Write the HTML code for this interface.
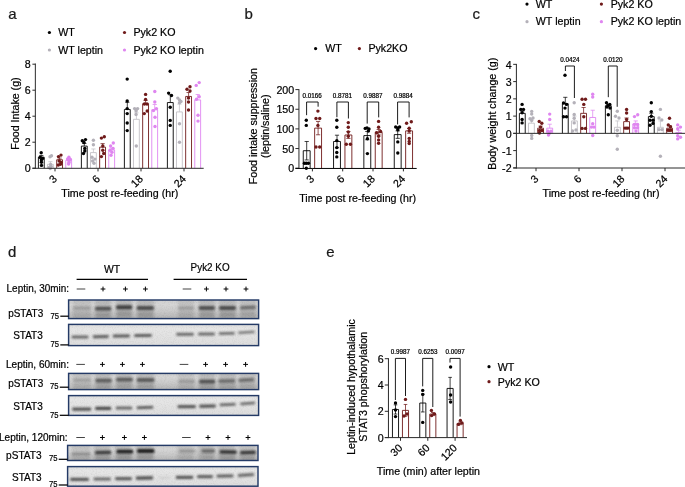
<!DOCTYPE html>
<html><head><meta charset="utf-8"><title>figure</title>
<style>html,body{margin:0;padding:0;background:#fff;overflow:hidden;}svg{display:block;font-family:"Liberation Sans",sans-serif;}</style>
</head><body>
<svg width="685" height="487" viewBox="0 0 685 487">
<rect x="0" y="0" width="685" height="487" fill="#fff"/>
<g opacity="0.999">
<text x="8.30" y="18.50" font-size="15" text-anchor="start" fill="#1a1a1a"  stroke="#1a1a1a" stroke-width="0.22">a</text>
<text x="244.40" y="18.60" font-size="15" text-anchor="start" fill="#1a1a1a"  stroke="#1a1a1a" stroke-width="0.22">b</text>
<text x="472.60" y="18.80" font-size="15" text-anchor="start" fill="#1a1a1a"  stroke="#1a1a1a" stroke-width="0.22">c</text>
<text x="8.00" y="257.00" font-size="15" text-anchor="start" fill="#1a1a1a"  stroke="#1a1a1a" stroke-width="0.22">d</text>
<text x="326.20" y="257.40" font-size="15" text-anchor="start" fill="#1a1a1a"  stroke="#1a1a1a" stroke-width="0.22">e</text>
<circle cx="49.40" cy="32.50" r="1.6" fill="#000000"/>
<text x="58.20" y="36.00" font-size="10.667" text-anchor="start" fill="#000"  stroke="#000" stroke-width="0.22">WT</text>
<circle cx="49.40" cy="50.00" r="1.6" fill="#b4b1b9"/>
<text x="58.20" y="53.60" font-size="10.667" text-anchor="start" fill="#000"  stroke="#000" stroke-width="0.22">WT leptin</text>
<circle cx="124.50" cy="32.50" r="1.6" fill="#6f1a1a"/>
<text x="133.40" y="36.00" font-size="10.667" text-anchor="start" fill="#000"  stroke="#000" stroke-width="0.22">Pyk2 KO</text>
<circle cx="124.50" cy="50.00" r="1.6" fill="#df86f0"/>
<text x="133.40" y="53.60" font-size="10.667" text-anchor="start" fill="#000"  stroke="#000" stroke-width="0.22">Pyk2 KO leptin</text>
<text transform="translate(19.20,113.50) rotate(-90)" font-size="10.667" text-anchor="middle" fill="#000" stroke="#000" stroke-width="0.22">Food Intake (g)</text>
<text x="30.60" y="172.25" font-size="10.667" text-anchor="end" fill="#000"  stroke="#000" stroke-width="0.22">0</text>
<line x1="32.40" y1="168.20" x2="35.35" y2="168.20" stroke="#2b2b2b" stroke-width="1.0" stroke-linecap="butt"/>
<text x="30.60" y="146.25" font-size="10.667" text-anchor="end" fill="#000"  stroke="#000" stroke-width="0.22">2</text>
<line x1="32.40" y1="142.20" x2="35.35" y2="142.20" stroke="#2b2b2b" stroke-width="1.0" stroke-linecap="butt"/>
<text x="30.60" y="120.25" font-size="10.667" text-anchor="end" fill="#000"  stroke="#000" stroke-width="0.22">4</text>
<line x1="32.40" y1="116.20" x2="35.35" y2="116.20" stroke="#2b2b2b" stroke-width="1.0" stroke-linecap="butt"/>
<text x="30.60" y="94.25" font-size="10.667" text-anchor="end" fill="#000"  stroke="#000" stroke-width="0.22">6</text>
<line x1="32.40" y1="90.20" x2="35.35" y2="90.20" stroke="#2b2b2b" stroke-width="1.0" stroke-linecap="butt"/>
<text x="30.60" y="68.25" font-size="10.667" text-anchor="end" fill="#000"  stroke="#000" stroke-width="0.22">8</text>
<line x1="32.40" y1="64.20" x2="35.35" y2="64.20" stroke="#2b2b2b" stroke-width="1.0" stroke-linecap="butt"/>
<line x1="41.30" y1="155.46" x2="41.30" y2="157.15" stroke="#000000" stroke-width="0.75" stroke-linecap="butt"/>
<line x1="39.20" y1="155.46" x2="43.40" y2="155.46" stroke="#000000" stroke-width="0.75" stroke-linecap="butt"/>
<path d="M38.38,168.20 V157.15 H44.23 V168.20" fill="#fff" stroke="#000000" stroke-width="0.9"/>
<line x1="50.40" y1="161.70" x2="50.40" y2="164.30" stroke="#c2c0c5" stroke-width="0.75" stroke-linecap="butt"/>
<line x1="48.30" y1="161.70" x2="52.50" y2="161.70" stroke="#c2c0c5" stroke-width="0.75" stroke-linecap="butt"/>
<path d="M47.48,168.20 V164.30 H53.33 V168.20" fill="#fff" stroke="#c2c0c5" stroke-width="0.9"/>
<line x1="59.60" y1="158.06" x2="59.60" y2="159.75" stroke="#6f1a1a" stroke-width="0.75" stroke-linecap="butt"/>
<line x1="57.50" y1="158.06" x2="61.70" y2="158.06" stroke="#6f1a1a" stroke-width="0.75" stroke-linecap="butt"/>
<path d="M56.68,168.20 V159.75 H62.53 V168.20" fill="#fff" stroke="#6f1a1a" stroke-width="0.9"/>
<line x1="68.70" y1="159.62" x2="68.70" y2="160.40" stroke="#df86f0" stroke-width="0.75" stroke-linecap="butt"/>
<line x1="66.60" y1="159.62" x2="70.80" y2="159.62" stroke="#df86f0" stroke-width="0.75" stroke-linecap="butt"/>
<path d="M65.78,168.20 V160.40 H71.62 V168.20" fill="#fff" stroke="#df86f0" stroke-width="0.9"/>
<line x1="84.30" y1="143.50" x2="84.30" y2="146.10" stroke="#000000" stroke-width="0.75" stroke-linecap="butt"/>
<line x1="82.20" y1="143.50" x2="86.40" y2="143.50" stroke="#000000" stroke-width="0.75" stroke-linecap="butt"/>
<path d="M81.38,168.20 V146.10 H87.22 V168.20" fill="#fff" stroke="#000000" stroke-width="0.9"/>
<line x1="93.40" y1="148.96" x2="93.40" y2="152.60" stroke="#c2c0c5" stroke-width="0.75" stroke-linecap="butt"/>
<line x1="91.30" y1="148.96" x2="95.50" y2="148.96" stroke="#c2c0c5" stroke-width="0.75" stroke-linecap="butt"/>
<path d="M90.48,168.20 V152.60 H96.33 V168.20" fill="#fff" stroke="#c2c0c5" stroke-width="0.9"/>
<line x1="102.60" y1="143.63" x2="102.60" y2="147.14" stroke="#6f1a1a" stroke-width="0.75" stroke-linecap="butt"/>
<line x1="100.50" y1="143.63" x2="104.70" y2="143.63" stroke="#6f1a1a" stroke-width="0.75" stroke-linecap="butt"/>
<path d="M99.67,168.20 V147.14 H105.52 V168.20" fill="#fff" stroke="#6f1a1a" stroke-width="0.9"/>
<line x1="111.70" y1="148.05" x2="111.70" y2="150.00" stroke="#df86f0" stroke-width="0.75" stroke-linecap="butt"/>
<line x1="109.60" y1="148.05" x2="113.80" y2="148.05" stroke="#df86f0" stroke-width="0.75" stroke-linecap="butt"/>
<path d="M108.78,168.20 V150.00 H114.62 V168.20" fill="#fff" stroke="#df86f0" stroke-width="0.9"/>
<line x1="127.30" y1="102.29" x2="127.30" y2="109.44" stroke="#000000" stroke-width="0.75" stroke-linecap="butt"/>
<line x1="125.20" y1="102.29" x2="129.40" y2="102.29" stroke="#000000" stroke-width="0.75" stroke-linecap="butt"/>
<path d="M124.38,168.20 V109.44 H130.22 V168.20" fill="#fff" stroke="#000000" stroke-width="0.9"/>
<line x1="136.40" y1="112.82" x2="136.40" y2="119.32" stroke="#c2c0c5" stroke-width="0.75" stroke-linecap="butt"/>
<line x1="134.30" y1="112.82" x2="138.50" y2="112.82" stroke="#c2c0c5" stroke-width="0.75" stroke-linecap="butt"/>
<path d="M133.47,168.20 V119.32 H139.32 V168.20" fill="#fff" stroke="#c2c0c5" stroke-width="0.9"/>
<line x1="145.60" y1="100.47" x2="145.60" y2="103.72" stroke="#6f1a1a" stroke-width="0.75" stroke-linecap="butt"/>
<line x1="143.50" y1="100.47" x2="147.70" y2="100.47" stroke="#6f1a1a" stroke-width="0.75" stroke-linecap="butt"/>
<path d="M142.67,168.20 V103.72 H148.52 V168.20" fill="#fff" stroke="#6f1a1a" stroke-width="0.9"/>
<line x1="154.70" y1="104.50" x2="154.70" y2="109.70" stroke="#df86f0" stroke-width="0.75" stroke-linecap="butt"/>
<line x1="152.60" y1="104.50" x2="156.80" y2="104.50" stroke="#df86f0" stroke-width="0.75" stroke-linecap="butt"/>
<path d="M151.77,168.20 V109.70 H157.62 V168.20" fill="#fff" stroke="#df86f0" stroke-width="0.9"/>
<line x1="170.30" y1="94.75" x2="170.30" y2="102.55" stroke="#000000" stroke-width="0.75" stroke-linecap="butt"/>
<line x1="168.20" y1="94.75" x2="172.40" y2="94.75" stroke="#000000" stroke-width="0.75" stroke-linecap="butt"/>
<path d="M167.38,168.20 V102.55 H173.22 V168.20" fill="#fff" stroke="#000000" stroke-width="0.9"/>
<line x1="179.40" y1="104.11" x2="179.40" y2="111.91" stroke="#c2c0c5" stroke-width="0.75" stroke-linecap="butt"/>
<line x1="177.30" y1="104.11" x2="181.50" y2="104.11" stroke="#c2c0c5" stroke-width="0.75" stroke-linecap="butt"/>
<path d="M176.47,168.20 V111.91 H182.32 V168.20" fill="#fff" stroke="#c2c0c5" stroke-width="0.9"/>
<line x1="188.60" y1="92.54" x2="188.60" y2="96.44" stroke="#6f1a1a" stroke-width="0.75" stroke-linecap="butt"/>
<line x1="186.50" y1="92.54" x2="190.70" y2="92.54" stroke="#6f1a1a" stroke-width="0.75" stroke-linecap="butt"/>
<path d="M185.67,168.20 V96.44 H191.52 V168.20" fill="#fff" stroke="#6f1a1a" stroke-width="0.9"/>
<line x1="197.70" y1="94.49" x2="197.70" y2="99.95" stroke="#df86f0" stroke-width="0.75" stroke-linecap="butt"/>
<line x1="195.60" y1="94.49" x2="199.80" y2="94.49" stroke="#df86f0" stroke-width="0.75" stroke-linecap="butt"/>
<path d="M194.77,168.20 V99.95 H200.62 V168.20" fill="#fff" stroke="#df86f0" stroke-width="0.9"/>
<circle cx="41.20" cy="152.80" r="1.7" fill="#000000"/>
<circle cx="40.10" cy="157.40" r="1.7" fill="#000000"/>
<circle cx="42.60" cy="158.40" r="1.7" fill="#000000"/>
<circle cx="41.40" cy="160.00" r="1.7" fill="#000000"/>
<circle cx="41.50" cy="165.40" r="1.7" fill="#000000"/>
<circle cx="41.40" cy="162.30" r="1.7" fill="#000000"/>
<circle cx="50.00" cy="156.80" r="1.7" fill="#b4b1b9"/>
<circle cx="51.50" cy="155.80" r="1.7" fill="#b4b1b9"/>
<circle cx="49.50" cy="167.30" r="1.7" fill="#b4b1b9"/>
<circle cx="51.20" cy="166.40" r="1.7" fill="#b4b1b9"/>
<circle cx="50.20" cy="168.60" r="1.7" fill="#b4b1b9"/>
<circle cx="50.60" cy="164.50" r="1.7" fill="#b4b1b9"/>
<circle cx="58.50" cy="156.60" r="1.7" fill="#6f1a1a"/>
<circle cx="61.00" cy="155.10" r="1.7" fill="#6f1a1a"/>
<circle cx="59.20" cy="161.00" r="1.7" fill="#6f1a1a"/>
<circle cx="61.00" cy="162.50" r="1.7" fill="#6f1a1a"/>
<circle cx="58.30" cy="165.00" r="1.7" fill="#6f1a1a"/>
<circle cx="60.50" cy="164.20" r="1.7" fill="#6f1a1a"/>
<circle cx="68.90" cy="157.20" r="1.7" fill="#df86f0"/>
<circle cx="67.60" cy="159.00" r="1.7" fill="#df86f0"/>
<circle cx="70.40" cy="159.50" r="1.7" fill="#df86f0"/>
<circle cx="69.00" cy="161.00" r="1.7" fill="#df86f0"/>
<circle cx="69.00" cy="162.60" r="1.7" fill="#df86f0"/>
<circle cx="68.60" cy="164.00" r="1.7" fill="#df86f0"/>
<circle cx="82.30" cy="140.70" r="1.7" fill="#000000"/>
<circle cx="85.50" cy="139.60" r="1.7" fill="#000000"/>
<circle cx="84.00" cy="142.50" r="1.7" fill="#000000"/>
<circle cx="84.80" cy="148.40" r="1.7" fill="#000000"/>
<circle cx="84.80" cy="151.00" r="1.7" fill="#000000"/>
<circle cx="83.50" cy="153.50" r="1.7" fill="#000000"/>
<circle cx="93.40" cy="140.30" r="1.7" fill="#b4b1b9"/>
<circle cx="93.40" cy="144.70" r="1.7" fill="#b4b1b9"/>
<circle cx="92.00" cy="157.20" r="1.7" fill="#b4b1b9"/>
<circle cx="94.90" cy="159.10" r="1.7" fill="#b4b1b9"/>
<circle cx="92.60" cy="161.00" r="1.7" fill="#b4b1b9"/>
<circle cx="94.00" cy="163.20" r="1.7" fill="#b4b1b9"/>
<circle cx="101.40" cy="138.10" r="1.7" fill="#6f1a1a"/>
<circle cx="104.30" cy="136.80" r="1.7" fill="#6f1a1a"/>
<circle cx="102.80" cy="146.00" r="1.7" fill="#6f1a1a"/>
<circle cx="102.80" cy="150.30" r="1.7" fill="#6f1a1a"/>
<circle cx="103.70" cy="153.50" r="1.7" fill="#6f1a1a"/>
<circle cx="101.40" cy="156.60" r="1.7" fill="#6f1a1a"/>
<circle cx="113.30" cy="143.00" r="1.7" fill="#df86f0"/>
<circle cx="110.60" cy="146.00" r="1.7" fill="#df86f0"/>
<circle cx="113.10" cy="148.40" r="1.7" fill="#df86f0"/>
<circle cx="110.00" cy="150.30" r="1.7" fill="#df86f0"/>
<circle cx="112.00" cy="152.20" r="1.7" fill="#df86f0"/>
<circle cx="111.00" cy="155.20" r="1.7" fill="#df86f0"/>
<circle cx="127.20" cy="79.10" r="1.7" fill="#000000"/>
<circle cx="127.20" cy="101.00" r="1.7" fill="#000000"/>
<circle cx="127.20" cy="108.60" r="1.7" fill="#000000"/>
<circle cx="127.20" cy="113.60" r="1.7" fill="#000000"/>
<circle cx="127.20" cy="123.00" r="1.7" fill="#000000"/>
<circle cx="127.20" cy="130.60" r="1.7" fill="#000000"/>
<circle cx="134.60" cy="108.60" r="1.7" fill="#b4b1b9"/>
<circle cx="137.60" cy="108.60" r="1.7" fill="#b4b1b9"/>
<circle cx="136.10" cy="111.00" r="1.7" fill="#b4b1b9"/>
<circle cx="136.10" cy="114.50" r="1.7" fill="#b4b1b9"/>
<circle cx="136.30" cy="146.00" r="1.7" fill="#b4b1b9"/>
<circle cx="136.10" cy="109.40" r="1.7" fill="#b4b1b9"/>
<circle cx="145.60" cy="94.40" r="1.7" fill="#6f1a1a"/>
<circle cx="145.60" cy="99.40" r="1.7" fill="#6f1a1a"/>
<circle cx="144.40" cy="104.00" r="1.7" fill="#6f1a1a"/>
<circle cx="147.00" cy="104.00" r="1.7" fill="#6f1a1a"/>
<circle cx="147.20" cy="111.00" r="1.7" fill="#6f1a1a"/>
<circle cx="144.30" cy="113.60" r="1.7" fill="#6f1a1a"/>
<circle cx="154.80" cy="91.50" r="1.7" fill="#df86f0"/>
<circle cx="154.80" cy="102.00" r="1.7" fill="#df86f0"/>
<circle cx="156.40" cy="108.60" r="1.7" fill="#df86f0"/>
<circle cx="153.50" cy="110.60" r="1.7" fill="#df86f0"/>
<circle cx="155.00" cy="117.20" r="1.7" fill="#df86f0"/>
<circle cx="155.00" cy="126.50" r="1.7" fill="#df86f0"/>
<circle cx="170.20" cy="71.20" r="1.7" fill="#000000"/>
<circle cx="168.60" cy="93.10" r="1.7" fill="#000000"/>
<circle cx="171.50" cy="95.50" r="1.7" fill="#000000"/>
<circle cx="170.20" cy="107.30" r="1.7" fill="#000000"/>
<circle cx="170.20" cy="120.40" r="1.7" fill="#000000"/>
<circle cx="170.20" cy="125.40" r="1.7" fill="#000000"/>
<circle cx="177.80" cy="98.10" r="1.7" fill="#b4b1b9"/>
<circle cx="179.50" cy="100.00" r="1.7" fill="#b4b1b9"/>
<circle cx="181.00" cy="101.50" r="1.7" fill="#b4b1b9"/>
<circle cx="179.50" cy="102.70" r="1.7" fill="#b4b1b9"/>
<circle cx="179.50" cy="123.70" r="1.7" fill="#b4b1b9"/>
<circle cx="179.50" cy="142.20" r="1.7" fill="#b4b1b9"/>
<circle cx="190.00" cy="86.70" r="1.7" fill="#6f1a1a"/>
<circle cx="187.00" cy="89.20" r="1.7" fill="#6f1a1a"/>
<circle cx="190.00" cy="90.90" r="1.7" fill="#6f1a1a"/>
<circle cx="188.50" cy="98.10" r="1.7" fill="#6f1a1a"/>
<circle cx="188.50" cy="102.00" r="1.7" fill="#6f1a1a"/>
<circle cx="188.50" cy="110.00" r="1.7" fill="#6f1a1a"/>
<circle cx="199.20" cy="82.60" r="1.7" fill="#df86f0"/>
<circle cx="196.20" cy="85.40" r="1.7" fill="#df86f0"/>
<circle cx="199.20" cy="96.80" r="1.7" fill="#df86f0"/>
<circle cx="196.50" cy="99.20" r="1.7" fill="#df86f0"/>
<circle cx="198.00" cy="115.20" r="1.7" fill="#df86f0"/>
<circle cx="198.00" cy="121.10" r="1.7" fill="#df86f0"/>
<line x1="35.35" y1="63.50" x2="35.35" y2="168.70" stroke="#2b2b2b" stroke-width="1.0" stroke-linecap="butt"/>
<line x1="32.40" y1="168.30" x2="203.70" y2="168.30" stroke="#2b2b2b" stroke-width="1.0" stroke-linecap="butt"/>
<line x1="55.00" y1="168.20" x2="55.00" y2="171.40" stroke="#2b2b2b" stroke-width="1.0" stroke-linecap="butt"/>
<line x1="98.00" y1="168.20" x2="98.00" y2="171.40" stroke="#2b2b2b" stroke-width="1.0" stroke-linecap="butt"/>
<line x1="141.00" y1="168.20" x2="141.00" y2="171.40" stroke="#2b2b2b" stroke-width="1.0" stroke-linecap="butt"/>
<line x1="184.00" y1="168.20" x2="184.00" y2="171.40" stroke="#2b2b2b" stroke-width="1.0" stroke-linecap="butt"/>
<text transform="translate(57.70,179.50) rotate(-45)" font-size="10.667" text-anchor="end" fill="#000" stroke="#000" stroke-width="0.22">3</text>
<text transform="translate(100.70,179.50) rotate(-45)" font-size="10.667" text-anchor="end" fill="#000" stroke="#000" stroke-width="0.22">6</text>
<text transform="translate(143.70,179.50) rotate(-45)" font-size="10.667" text-anchor="end" fill="#000" stroke="#000" stroke-width="0.22">18</text>
<text transform="translate(186.70,179.50) rotate(-45)" font-size="10.667" text-anchor="end" fill="#000" stroke="#000" stroke-width="0.22">24</text>
<text x="119.80" y="197.00" font-size="10.667" text-anchor="middle" fill="#000"  stroke="#000" stroke-width="0.22">Time post re-feeding (hr)</text>
<circle cx="315.60" cy="48.60" r="1.6" fill="#000000"/>
<text x="325.20" y="52.20" font-size="10.667" text-anchor="start" fill="#000"  stroke="#000" stroke-width="0.22">WT</text>
<circle cx="359.40" cy="48.60" r="1.6" fill="#6f1a1a"/>
<text x="368.40" y="52.20" font-size="10.667" text-anchor="start" fill="#000"  stroke="#000" stroke-width="0.22">Pyk2KO</text>
<text transform="translate(256.80,126.20) rotate(-90)" font-size="10.667" text-anchor="middle" fill="#000" stroke="#000" stroke-width="0.22">Food intake suppression</text>
<text transform="translate(269.30,126.20) rotate(-90)" font-size="10.667" text-anchor="middle" fill="#000" stroke="#000" stroke-width="0.22">(leptin/saline)</text>
<text x="294.20" y="172.25" font-size="10.667" text-anchor="end" fill="#000"  stroke="#000" stroke-width="0.22">0</text>
<line x1="295.40" y1="168.20" x2="298.95" y2="168.20" stroke="#2b2b2b" stroke-width="1.0" stroke-linecap="butt"/>
<text x="294.20" y="152.60" font-size="10.667" text-anchor="end" fill="#000"  stroke="#000" stroke-width="0.22">50</text>
<line x1="295.40" y1="148.55" x2="298.95" y2="148.55" stroke="#2b2b2b" stroke-width="1.0" stroke-linecap="butt"/>
<text x="294.20" y="132.95" font-size="10.667" text-anchor="end" fill="#000"  stroke="#000" stroke-width="0.22">100</text>
<line x1="295.40" y1="128.90" x2="298.95" y2="128.90" stroke="#2b2b2b" stroke-width="1.0" stroke-linecap="butt"/>
<text x="294.20" y="113.30" font-size="10.667" text-anchor="end" fill="#000"  stroke="#000" stroke-width="0.22">150</text>
<line x1="295.40" y1="109.25" x2="298.95" y2="109.25" stroke="#2b2b2b" stroke-width="1.0" stroke-linecap="butt"/>
<text x="294.20" y="93.65" font-size="10.667" text-anchor="end" fill="#000"  stroke="#000" stroke-width="0.22">200</text>
<line x1="295.40" y1="89.60" x2="298.95" y2="89.60" stroke="#2b2b2b" stroke-width="1.0" stroke-linecap="butt"/>
<path d="M303.25,168.20 V150.71 H310.15 V168.20" fill="#fff" stroke="#000000" stroke-width="0.9"/>
<line x1="306.70" y1="141.48" x2="306.70" y2="159.95" stroke="#000000" stroke-width="0.75" stroke-linecap="butt"/>
<line x1="304.60" y1="141.48" x2="308.80" y2="141.48" stroke="#000000" stroke-width="0.75" stroke-linecap="butt"/>
<line x1="304.60" y1="159.95" x2="308.80" y2="159.95" stroke="#000000" stroke-width="0.75" stroke-linecap="butt"/>
<path d="M314.65,168.20 V128.11 H321.55 V168.20" fill="#fff" stroke="#6f1a1a" stroke-width="0.9"/>
<line x1="318.10" y1="121.43" x2="318.10" y2="134.79" stroke="#6f1a1a" stroke-width="0.75" stroke-linecap="butt"/>
<line x1="316.00" y1="121.43" x2="320.20" y2="121.43" stroke="#6f1a1a" stroke-width="0.75" stroke-linecap="butt"/>
<line x1="316.00" y1="134.79" x2="320.20" y2="134.79" stroke="#6f1a1a" stroke-width="0.75" stroke-linecap="butt"/>
<path d="M333.55,168.20 V141.48 H340.45 V168.20" fill="#fff" stroke="#000000" stroke-width="0.9"/>
<line x1="337.00" y1="135.19" x2="337.00" y2="147.76" stroke="#000000" stroke-width="0.75" stroke-linecap="butt"/>
<line x1="334.90" y1="135.19" x2="339.10" y2="135.19" stroke="#000000" stroke-width="0.75" stroke-linecap="butt"/>
<line x1="334.90" y1="147.76" x2="339.10" y2="147.76" stroke="#000000" stroke-width="0.75" stroke-linecap="butt"/>
<path d="M344.95,168.20 V134.99 H351.85 V168.20" fill="#fff" stroke="#6f1a1a" stroke-width="0.9"/>
<line x1="348.40" y1="131.53" x2="348.40" y2="138.45" stroke="#6f1a1a" stroke-width="0.75" stroke-linecap="butt"/>
<line x1="346.30" y1="131.53" x2="350.50" y2="131.53" stroke="#6f1a1a" stroke-width="0.75" stroke-linecap="butt"/>
<line x1="346.30" y1="138.45" x2="350.50" y2="138.45" stroke="#6f1a1a" stroke-width="0.75" stroke-linecap="butt"/>
<path d="M363.85,168.20 V135.58 H370.75 V168.20" fill="#fff" stroke="#000000" stroke-width="0.9"/>
<line x1="367.30" y1="131.45" x2="367.30" y2="139.71" stroke="#000000" stroke-width="0.75" stroke-linecap="butt"/>
<line x1="365.20" y1="131.45" x2="369.40" y2="131.45" stroke="#000000" stroke-width="0.75" stroke-linecap="butt"/>
<line x1="365.20" y1="139.71" x2="369.40" y2="139.71" stroke="#000000" stroke-width="0.75" stroke-linecap="butt"/>
<path d="M375.25,168.20 V132.24 H382.15 V168.20" fill="#fff" stroke="#6f1a1a" stroke-width="0.9"/>
<line x1="378.70" y1="129.49" x2="378.70" y2="134.99" stroke="#6f1a1a" stroke-width="0.75" stroke-linecap="butt"/>
<line x1="376.60" y1="129.49" x2="380.80" y2="129.49" stroke="#6f1a1a" stroke-width="0.75" stroke-linecap="butt"/>
<line x1="376.60" y1="134.99" x2="380.80" y2="134.99" stroke="#6f1a1a" stroke-width="0.75" stroke-linecap="butt"/>
<path d="M394.25,168.20 V134.60 H401.15 V168.20" fill="#fff" stroke="#000000" stroke-width="0.9"/>
<line x1="397.70" y1="130.86" x2="397.70" y2="138.33" stroke="#000000" stroke-width="0.75" stroke-linecap="butt"/>
<line x1="395.60" y1="130.86" x2="399.80" y2="130.86" stroke="#000000" stroke-width="0.75" stroke-linecap="butt"/>
<line x1="395.60" y1="138.33" x2="399.80" y2="138.33" stroke="#000000" stroke-width="0.75" stroke-linecap="butt"/>
<path d="M405.65,168.20 V130.86 H412.55 V168.20" fill="#fff" stroke="#6f1a1a" stroke-width="0.9"/>
<line x1="409.10" y1="128.51" x2="409.10" y2="133.22" stroke="#6f1a1a" stroke-width="0.75" stroke-linecap="butt"/>
<line x1="407.00" y1="128.51" x2="411.20" y2="128.51" stroke="#6f1a1a" stroke-width="0.75" stroke-linecap="butt"/>
<line x1="407.00" y1="133.22" x2="411.20" y2="133.22" stroke="#6f1a1a" stroke-width="0.75" stroke-linecap="butt"/>
<circle cx="306.30" cy="120.20" r="1.7" fill="#000000"/>
<circle cx="306.30" cy="125.40" r="1.7" fill="#000000"/>
<circle cx="304.40" cy="163.20" r="1.7" fill="#000000"/>
<circle cx="306.30" cy="163.20" r="1.7" fill="#000000"/>
<circle cx="308.40" cy="163.20" r="1.7" fill="#000000"/>
<circle cx="306.30" cy="168.30" r="1.7" fill="#000000"/>
<circle cx="317.90" cy="111.10" r="1.7" fill="#6f1a1a"/>
<circle cx="316.00" cy="118.50" r="1.7" fill="#6f1a1a"/>
<circle cx="319.70" cy="118.50" r="1.7" fill="#6f1a1a"/>
<circle cx="317.90" cy="125.40" r="1.7" fill="#6f1a1a"/>
<circle cx="316.00" cy="147.00" r="1.7" fill="#6f1a1a"/>
<circle cx="319.70" cy="147.00" r="1.7" fill="#6f1a1a"/>
<circle cx="336.80" cy="120.20" r="1.7" fill="#000000"/>
<circle cx="336.80" cy="127.30" r="1.7" fill="#000000"/>
<circle cx="336.80" cy="140.60" r="1.7" fill="#000000"/>
<circle cx="336.80" cy="147.60" r="1.7" fill="#000000"/>
<circle cx="336.80" cy="152.50" r="1.7" fill="#000000"/>
<circle cx="336.80" cy="156.90" r="1.7" fill="#000000"/>
<circle cx="348.30" cy="122.60" r="1.7" fill="#6f1a1a"/>
<circle cx="348.30" cy="127.30" r="1.7" fill="#6f1a1a"/>
<circle cx="348.30" cy="132.00" r="1.7" fill="#6f1a1a"/>
<circle cx="348.30" cy="136.20" r="1.7" fill="#6f1a1a"/>
<circle cx="346.30" cy="144.30" r="1.7" fill="#6f1a1a"/>
<circle cx="350.40" cy="144.30" r="1.7" fill="#6f1a1a"/>
<circle cx="365.20" cy="128.40" r="1.7" fill="#000000"/>
<circle cx="367.00" cy="127.90" r="1.7" fill="#000000"/>
<circle cx="369.00" cy="129.00" r="1.7" fill="#000000"/>
<circle cx="368.40" cy="131.00" r="1.7" fill="#000000"/>
<circle cx="367.40" cy="138.70" r="1.7" fill="#000000"/>
<circle cx="367.40" cy="153.60" r="1.7" fill="#000000"/>
<circle cx="378.60" cy="121.40" r="1.7" fill="#6f1a1a"/>
<circle cx="378.60" cy="127.30" r="1.7" fill="#6f1a1a"/>
<circle cx="376.60" cy="132.80" r="1.7" fill="#6f1a1a"/>
<circle cx="380.60" cy="131.50" r="1.7" fill="#6f1a1a"/>
<circle cx="378.60" cy="136.20" r="1.7" fill="#6f1a1a"/>
<circle cx="378.60" cy="139.90" r="1.7" fill="#6f1a1a"/>
<circle cx="378.60" cy="143.20" r="1.7" fill="#6f1a1a"/>
<circle cx="395.70" cy="127.00" r="1.7" fill="#000000"/>
<circle cx="399.60" cy="127.00" r="1.7" fill="#000000"/>
<circle cx="397.80" cy="129.70" r="1.7" fill="#000000"/>
<circle cx="397.80" cy="128.00" r="1.7" fill="#000000"/>
<circle cx="397.80" cy="141.90" r="1.7" fill="#000000"/>
<circle cx="397.80" cy="153.00" r="1.7" fill="#000000"/>
<circle cx="406.60" cy="123.20" r="1.7" fill="#6f1a1a"/>
<circle cx="411.30" cy="121.80" r="1.7" fill="#6f1a1a"/>
<circle cx="409.20" cy="128.30" r="1.7" fill="#6f1a1a"/>
<circle cx="409.20" cy="130.90" r="1.7" fill="#6f1a1a"/>
<circle cx="409.20" cy="138.40" r="1.7" fill="#6f1a1a"/>
<circle cx="409.20" cy="141.40" r="1.7" fill="#6f1a1a"/>
<circle cx="409.20" cy="143.60" r="1.7" fill="#6f1a1a"/>
<line x1="298.95" y1="89.10" x2="298.95" y2="168.70" stroke="#2b2b2b" stroke-width="1.0" stroke-linecap="butt"/>
<line x1="295.40" y1="168.45" x2="416.70" y2="168.45" stroke="#000" stroke-width="1.0" stroke-linecap="butt"/>
<line x1="312.40" y1="168.20" x2="312.40" y2="171.40" stroke="#2b2b2b" stroke-width="1.0" stroke-linecap="butt"/>
<line x1="342.70" y1="168.20" x2="342.70" y2="171.40" stroke="#2b2b2b" stroke-width="1.0" stroke-linecap="butt"/>
<line x1="373.00" y1="168.20" x2="373.00" y2="171.40" stroke="#2b2b2b" stroke-width="1.0" stroke-linecap="butt"/>
<line x1="403.40" y1="168.20" x2="403.40" y2="171.40" stroke="#2b2b2b" stroke-width="1.0" stroke-linecap="butt"/>
<text transform="translate(315.00,179.60) rotate(-45)" font-size="10.667" text-anchor="end" fill="#000" stroke="#000" stroke-width="0.22">3</text>
<text transform="translate(345.30,179.60) rotate(-45)" font-size="10.667" text-anchor="end" fill="#000" stroke="#000" stroke-width="0.22">6</text>
<text transform="translate(375.60,179.60) rotate(-45)" font-size="10.667" text-anchor="end" fill="#000" stroke="#000" stroke-width="0.22">18</text>
<text transform="translate(406.00,179.60) rotate(-45)" font-size="10.667" text-anchor="end" fill="#000" stroke="#000" stroke-width="0.22">24</text>
<text x="357.60" y="201.60" font-size="10.667" text-anchor="middle" fill="#000"  stroke="#000" stroke-width="0.22">Time post re-feeding (hr)</text>
<path d="M306.60,115.20 V102.00 H318.10 V106.70" fill="none" stroke="#000" stroke-width="0.9"/>
<text x="312.20" y="97.70" font-size="6.3" text-anchor="middle" fill="#000"  stroke="#000" stroke-width="0.22">0.0166</text>
<path d="M336.90,117.20 V102.00 H348.40 V118.50" fill="none" stroke="#000" stroke-width="0.9"/>
<text x="342.50" y="97.70" font-size="6.3" text-anchor="middle" fill="#000"  stroke="#000" stroke-width="0.22">0.8781</text>
<path d="M367.20,123.60 V102.00 H378.70 V117.40" fill="none" stroke="#000" stroke-width="0.9"/>
<text x="372.80" y="97.70" font-size="6.3" text-anchor="middle" fill="#000"  stroke="#000" stroke-width="0.22">0.9887</text>
<path d="M397.60,124.40 V102.00 H409.10 V117.40" fill="none" stroke="#000" stroke-width="0.9"/>
<text x="403.20" y="97.70" font-size="6.3" text-anchor="middle" fill="#000"  stroke="#000" stroke-width="0.22">0.9884</text>
<circle cx="527.00" cy="4.10" r="1.6" fill="#000000"/>
<text x="535.80" y="7.70" font-size="10.667" text-anchor="start" fill="#000"  stroke="#000" stroke-width="0.22">WT</text>
<circle cx="527.00" cy="21.70" r="1.6" fill="#b4b1b9"/>
<text x="535.80" y="25.30" font-size="10.667" text-anchor="start" fill="#000"  stroke="#000" stroke-width="0.22">WT leptin</text>
<circle cx="601.40" cy="4.10" r="1.6" fill="#6f1a1a"/>
<text x="610.70" y="7.70" font-size="10.667" text-anchor="start" fill="#000"  stroke="#000" stroke-width="0.22">Pyk2 KO</text>
<circle cx="601.40" cy="21.70" r="1.6" fill="#df86f0"/>
<text x="610.70" y="25.30" font-size="10.667" text-anchor="start" fill="#000"  stroke="#000" stroke-width="0.22">Pyk2 KO leptin</text>
<text transform="translate(496.30,113.70) rotate(-90)" font-size="10.667" text-anchor="middle" fill="#000" stroke="#000" stroke-width="0.22">Body weight change (g)</text>
<text x="511.60" y="172.15" font-size="10.667" text-anchor="end" fill="#000"  stroke="#000" stroke-width="0.22">-2</text>
<line x1="513.20" y1="167.85" x2="516.40" y2="167.85" stroke="#2b2b2b" stroke-width="1.0" stroke-linecap="butt"/>
<text x="511.60" y="154.90" font-size="10.667" text-anchor="end" fill="#000"  stroke="#000" stroke-width="0.22">-1</text>
<line x1="513.20" y1="150.60" x2="516.40" y2="150.60" stroke="#2b2b2b" stroke-width="1.0" stroke-linecap="butt"/>
<text x="511.60" y="137.65" font-size="10.667" text-anchor="end" fill="#000"  stroke="#000" stroke-width="0.22">0</text>
<line x1="513.20" y1="133.35" x2="516.40" y2="133.35" stroke="#2b2b2b" stroke-width="1.0" stroke-linecap="butt"/>
<text x="511.60" y="120.40" font-size="10.667" text-anchor="end" fill="#000"  stroke="#000" stroke-width="0.22">1</text>
<line x1="513.20" y1="116.10" x2="516.40" y2="116.10" stroke="#2b2b2b" stroke-width="1.0" stroke-linecap="butt"/>
<text x="511.60" y="103.15" font-size="10.667" text-anchor="end" fill="#000"  stroke="#000" stroke-width="0.22">2</text>
<line x1="513.20" y1="98.85" x2="516.40" y2="98.85" stroke="#2b2b2b" stroke-width="1.0" stroke-linecap="butt"/>
<text x="511.60" y="85.90" font-size="10.667" text-anchor="end" fill="#000"  stroke="#000" stroke-width="0.22">3</text>
<line x1="513.20" y1="81.60" x2="516.40" y2="81.60" stroke="#2b2b2b" stroke-width="1.0" stroke-linecap="butt"/>
<text x="511.60" y="68.65" font-size="10.667" text-anchor="end" fill="#000"  stroke="#000" stroke-width="0.22">4</text>
<line x1="513.20" y1="64.35" x2="516.40" y2="64.35" stroke="#2b2b2b" stroke-width="1.0" stroke-linecap="butt"/>
<line x1="522.30" y1="111.10" x2="522.30" y2="113.34" stroke="#000000" stroke-width="0.75" stroke-linecap="butt"/>
<line x1="520.20" y1="111.10" x2="524.40" y2="111.10" stroke="#000000" stroke-width="0.75" stroke-linecap="butt"/>
<path d="M519.38,133.35 V113.34 H525.23 V133.35" fill="#fff" stroke="#000000" stroke-width="0.9"/>
<line x1="531.40" y1="118.52" x2="531.40" y2="123.17" stroke="#c2c0c5" stroke-width="0.75" stroke-linecap="butt"/>
<line x1="529.30" y1="118.52" x2="533.50" y2="118.52" stroke="#c2c0c5" stroke-width="0.75" stroke-linecap="butt"/>
<path d="M528.48,133.35 V123.17 H534.33 V133.35" fill="#fff" stroke="#c2c0c5" stroke-width="0.9"/>
<line x1="540.60" y1="126.10" x2="540.60" y2="128.17" stroke="#6f1a1a" stroke-width="0.75" stroke-linecap="butt"/>
<line x1="538.50" y1="126.10" x2="542.70" y2="126.10" stroke="#6f1a1a" stroke-width="0.75" stroke-linecap="butt"/>
<path d="M537.68,133.35 V128.17 H543.53 V133.35" fill="#fff" stroke="#6f1a1a" stroke-width="0.9"/>
<line x1="549.70" y1="124.21" x2="549.70" y2="128.17" stroke="#df86f0" stroke-width="0.75" stroke-linecap="butt"/>
<line x1="547.60" y1="124.21" x2="551.80" y2="124.21" stroke="#df86f0" stroke-width="0.75" stroke-linecap="butt"/>
<path d="M546.78,133.35 V128.17 H552.63 V133.35" fill="#fff" stroke="#df86f0" stroke-width="0.9"/>
<line x1="565.30" y1="97.30" x2="565.30" y2="103.68" stroke="#000000" stroke-width="0.75" stroke-linecap="butt"/>
<line x1="563.20" y1="97.30" x2="567.40" y2="97.30" stroke="#000000" stroke-width="0.75" stroke-linecap="butt"/>
<path d="M562.38,133.35 V103.68 H568.23 V133.35" fill="#fff" stroke="#000000" stroke-width="0.9"/>
<line x1="574.40" y1="116.10" x2="574.40" y2="120.93" stroke="#c2c0c5" stroke-width="0.75" stroke-linecap="butt"/>
<line x1="572.30" y1="116.10" x2="576.50" y2="116.10" stroke="#c2c0c5" stroke-width="0.75" stroke-linecap="butt"/>
<path d="M571.48,133.35 V120.93 H577.33 V133.35" fill="#fff" stroke="#c2c0c5" stroke-width="0.9"/>
<line x1="583.60" y1="107.47" x2="583.60" y2="113.34" stroke="#6f1a1a" stroke-width="0.75" stroke-linecap="butt"/>
<line x1="581.50" y1="107.47" x2="585.70" y2="107.47" stroke="#6f1a1a" stroke-width="0.75" stroke-linecap="butt"/>
<path d="M580.68,133.35 V113.34 H586.53 V133.35" fill="#fff" stroke="#6f1a1a" stroke-width="0.9"/>
<line x1="592.70" y1="110.23" x2="592.70" y2="117.48" stroke="#df86f0" stroke-width="0.75" stroke-linecap="butt"/>
<line x1="590.60" y1="110.23" x2="594.80" y2="110.23" stroke="#df86f0" stroke-width="0.75" stroke-linecap="butt"/>
<path d="M589.78,133.35 V117.48 H595.63 V133.35" fill="#fff" stroke="#df86f0" stroke-width="0.9"/>
<line x1="608.30" y1="104.37" x2="608.30" y2="105.75" stroke="#000000" stroke-width="0.75" stroke-linecap="butt"/>
<line x1="606.20" y1="104.37" x2="610.40" y2="104.37" stroke="#000000" stroke-width="0.75" stroke-linecap="butt"/>
<path d="M605.38,133.35 V105.75 H611.23 V133.35" fill="#fff" stroke="#000000" stroke-width="0.9"/>
<line x1="617.40" y1="120.93" x2="617.40" y2="127.31" stroke="#c2c0c5" stroke-width="0.75" stroke-linecap="butt"/>
<line x1="615.30" y1="120.93" x2="619.50" y2="120.93" stroke="#c2c0c5" stroke-width="0.75" stroke-linecap="butt"/>
<path d="M614.48,133.35 V127.31 H620.33 V133.35" fill="#fff" stroke="#c2c0c5" stroke-width="0.9"/>
<line x1="626.60" y1="118.00" x2="626.60" y2="121.62" stroke="#6f1a1a" stroke-width="0.75" stroke-linecap="butt"/>
<line x1="624.50" y1="118.00" x2="628.70" y2="118.00" stroke="#6f1a1a" stroke-width="0.75" stroke-linecap="butt"/>
<path d="M623.68,133.35 V121.62 H629.53 V133.35" fill="#fff" stroke="#6f1a1a" stroke-width="0.9"/>
<line x1="635.70" y1="120.93" x2="635.70" y2="123.86" stroke="#df86f0" stroke-width="0.75" stroke-linecap="butt"/>
<line x1="633.60" y1="120.93" x2="637.80" y2="120.93" stroke="#df86f0" stroke-width="0.75" stroke-linecap="butt"/>
<path d="M632.78,133.35 V123.86 H638.63 V133.35" fill="#fff" stroke="#df86f0" stroke-width="0.9"/>
<line x1="651.30" y1="113.17" x2="651.30" y2="116.62" stroke="#000000" stroke-width="0.75" stroke-linecap="butt"/>
<line x1="649.20" y1="113.17" x2="653.40" y2="113.17" stroke="#000000" stroke-width="0.75" stroke-linecap="butt"/>
<path d="M648.38,133.35 V116.62 H654.23 V133.35" fill="#fff" stroke="#000000" stroke-width="0.9"/>
<line x1="660.40" y1="120.93" x2="660.40" y2="127.31" stroke="#c2c0c5" stroke-width="0.75" stroke-linecap="butt"/>
<line x1="658.30" y1="120.93" x2="662.50" y2="120.93" stroke="#c2c0c5" stroke-width="0.75" stroke-linecap="butt"/>
<path d="M657.48,133.35 V127.31 H663.33 V133.35" fill="#fff" stroke="#c2c0c5" stroke-width="0.9"/>
<line x1="669.60" y1="125.93" x2="669.60" y2="128.17" stroke="#6f1a1a" stroke-width="0.75" stroke-linecap="butt"/>
<line x1="667.50" y1="125.93" x2="671.70" y2="125.93" stroke="#6f1a1a" stroke-width="0.75" stroke-linecap="butt"/>
<path d="M666.68,133.35 V128.17 H672.53 V133.35" fill="#fff" stroke="#6f1a1a" stroke-width="0.9"/>
<line x1="678.70" y1="130.25" x2="678.70" y2="132.49" stroke="#df86f0" stroke-width="0.75" stroke-linecap="butt"/>
<line x1="676.60" y1="130.25" x2="680.80" y2="130.25" stroke="#df86f0" stroke-width="0.75" stroke-linecap="butt"/>
<path d="M675.78,133.35 V132.49 H681.63 V133.35" fill="#fff" stroke="#df86f0" stroke-width="0.9"/>
<circle cx="522.10" cy="104.40" r="1.7" fill="#000000"/>
<circle cx="520.80" cy="109.40" r="1.7" fill="#000000"/>
<circle cx="523.50" cy="109.40" r="1.7" fill="#000000"/>
<circle cx="522.10" cy="112.80" r="1.7" fill="#000000"/>
<circle cx="522.10" cy="119.50" r="1.7" fill="#000000"/>
<circle cx="522.10" cy="122.90" r="1.7" fill="#000000"/>
<circle cx="531.70" cy="111.40" r="1.7" fill="#b4b1b9"/>
<circle cx="531.70" cy="114.10" r="1.7" fill="#b4b1b9"/>
<circle cx="530.00" cy="118.70" r="1.7" fill="#b4b1b9"/>
<circle cx="533.00" cy="118.00" r="1.7" fill="#b4b1b9"/>
<circle cx="531.70" cy="120.40" r="1.7" fill="#b4b1b9"/>
<circle cx="531.70" cy="135.50" r="1.7" fill="#b4b1b9"/>
<circle cx="531.70" cy="138.40" r="1.7" fill="#b4b1b9"/>
<circle cx="539.20" cy="121.50" r="1.7" fill="#6f1a1a"/>
<circle cx="541.80" cy="123.20" r="1.7" fill="#6f1a1a"/>
<circle cx="540.50" cy="127.10" r="1.7" fill="#6f1a1a"/>
<circle cx="539.50" cy="130.50" r="1.7" fill="#6f1a1a"/>
<circle cx="542.00" cy="130.50" r="1.7" fill="#6f1a1a"/>
<circle cx="539.50" cy="133.00" r="1.7" fill="#6f1a1a"/>
<circle cx="549.70" cy="114.10" r="1.7" fill="#df86f0"/>
<circle cx="549.70" cy="119.50" r="1.7" fill="#df86f0"/>
<circle cx="548.00" cy="131.30" r="1.7" fill="#df86f0"/>
<circle cx="551.00" cy="131.30" r="1.7" fill="#df86f0"/>
<circle cx="549.70" cy="133.00" r="1.7" fill="#df86f0"/>
<circle cx="548.50" cy="135.00" r="1.7" fill="#df86f0"/>
<circle cx="565.00" cy="75.30" r="1.7" fill="#000000"/>
<circle cx="563.50" cy="103.00" r="1.7" fill="#000000"/>
<circle cx="566.50" cy="104.40" r="1.7" fill="#000000"/>
<circle cx="565.00" cy="108.10" r="1.7" fill="#000000"/>
<circle cx="563.50" cy="116.70" r="1.7" fill="#000000"/>
<circle cx="566.50" cy="116.70" r="1.7" fill="#000000"/>
<circle cx="574.20" cy="102.70" r="1.7" fill="#b4b1b9"/>
<circle cx="574.20" cy="114.50" r="1.7" fill="#b4b1b9"/>
<circle cx="574.20" cy="118.20" r="1.7" fill="#b4b1b9"/>
<circle cx="574.20" cy="122.90" r="1.7" fill="#b4b1b9"/>
<circle cx="572.50" cy="131.00" r="1.7" fill="#b4b1b9"/>
<circle cx="576.00" cy="130.00" r="1.7" fill="#b4b1b9"/>
<circle cx="582.10" cy="99.30" r="1.7" fill="#6f1a1a"/>
<circle cx="585.50" cy="99.30" r="1.7" fill="#6f1a1a"/>
<circle cx="583.80" cy="104.40" r="1.7" fill="#6f1a1a"/>
<circle cx="583.80" cy="116.70" r="1.7" fill="#6f1a1a"/>
<circle cx="582.10" cy="128.40" r="1.7" fill="#6f1a1a"/>
<circle cx="585.50" cy="128.40" r="1.7" fill="#6f1a1a"/>
<circle cx="592.70" cy="94.30" r="1.7" fill="#df86f0"/>
<circle cx="592.70" cy="97.10" r="1.7" fill="#df86f0"/>
<circle cx="592.70" cy="123.70" r="1.7" fill="#df86f0"/>
<circle cx="591.50" cy="127.10" r="1.7" fill="#df86f0"/>
<circle cx="594.00" cy="127.10" r="1.7" fill="#df86f0"/>
<circle cx="592.70" cy="135.50" r="1.7" fill="#df86f0"/>
<circle cx="606.50" cy="102.70" r="1.7" fill="#000000"/>
<circle cx="609.80" cy="104.40" r="1.7" fill="#000000"/>
<circle cx="607.00" cy="107.00" r="1.7" fill="#000000"/>
<circle cx="610.00" cy="108.00" r="1.7" fill="#000000"/>
<circle cx="608.30" cy="114.70" r="1.7" fill="#000000"/>
<circle cx="608.30" cy="105.50" r="1.7" fill="#000000"/>
<circle cx="617.30" cy="111.30" r="1.7" fill="#b4b1b9"/>
<circle cx="615.50" cy="116.30" r="1.7" fill="#b4b1b9"/>
<circle cx="619.00" cy="118.00" r="1.7" fill="#b4b1b9"/>
<circle cx="617.30" cy="130.30" r="1.7" fill="#b4b1b9"/>
<circle cx="617.30" cy="135.70" r="1.7" fill="#b4b1b9"/>
<circle cx="617.30" cy="149.30" r="1.7" fill="#b4b1b9"/>
<circle cx="626.60" cy="109.40" r="1.7" fill="#6f1a1a"/>
<circle cx="626.60" cy="113.00" r="1.7" fill="#6f1a1a"/>
<circle cx="626.60" cy="119.50" r="1.7" fill="#6f1a1a"/>
<circle cx="625.00" cy="128.10" r="1.7" fill="#6f1a1a"/>
<circle cx="628.00" cy="128.10" r="1.7" fill="#6f1a1a"/>
<circle cx="626.60" cy="128.10" r="1.7" fill="#6f1a1a"/>
<circle cx="637.70" cy="114.70" r="1.7" fill="#df86f0"/>
<circle cx="634.50" cy="116.60" r="1.7" fill="#df86f0"/>
<circle cx="634.50" cy="124.50" r="1.7" fill="#df86f0"/>
<circle cx="637.50" cy="124.50" r="1.7" fill="#df86f0"/>
<circle cx="634.50" cy="127.70" r="1.7" fill="#df86f0"/>
<circle cx="637.50" cy="127.70" r="1.7" fill="#df86f0"/>
<circle cx="636.00" cy="131.00" r="1.7" fill="#df86f0"/>
<circle cx="651.30" cy="102.70" r="1.7" fill="#000000"/>
<circle cx="651.30" cy="111.60" r="1.7" fill="#000000"/>
<circle cx="651.30" cy="116.30" r="1.7" fill="#000000"/>
<circle cx="650.00" cy="120.20" r="1.7" fill="#000000"/>
<circle cx="653.00" cy="120.20" r="1.7" fill="#000000"/>
<circle cx="650.00" cy="125.20" r="1.7" fill="#000000"/>
<circle cx="653.00" cy="123.40" r="1.7" fill="#000000"/>
<circle cx="660.40" cy="109.40" r="1.7" fill="#b4b1b9"/>
<circle cx="659.00" cy="118.00" r="1.7" fill="#b4b1b9"/>
<circle cx="661.80" cy="119.90" r="1.7" fill="#b4b1b9"/>
<circle cx="659.00" cy="129.60" r="1.7" fill="#b4b1b9"/>
<circle cx="662.00" cy="129.60" r="1.7" fill="#b4b1b9"/>
<circle cx="660.40" cy="156.20" r="1.7" fill="#b4b1b9"/>
<circle cx="669.50" cy="118.30" r="1.7" fill="#6f1a1a"/>
<circle cx="668.30" cy="124.90" r="1.7" fill="#6f1a1a"/>
<circle cx="670.50" cy="126.70" r="1.7" fill="#6f1a1a"/>
<circle cx="668.00" cy="130.30" r="1.7" fill="#6f1a1a"/>
<circle cx="669.50" cy="130.30" r="1.7" fill="#6f1a1a"/>
<circle cx="671.00" cy="130.30" r="1.7" fill="#6f1a1a"/>
<circle cx="677.70" cy="124.90" r="1.7" fill="#df86f0"/>
<circle cx="680.50" cy="127.10" r="1.7" fill="#df86f0"/>
<circle cx="677.70" cy="128.80" r="1.7" fill="#df86f0"/>
<circle cx="677.70" cy="135.70" r="1.7" fill="#df86f0"/>
<circle cx="680.50" cy="137.20" r="1.7" fill="#df86f0"/>
<circle cx="677.70" cy="138.90" r="1.7" fill="#df86f0"/>
<line x1="516.40" y1="63.90" x2="516.40" y2="168.50" stroke="#2b2b2b" stroke-width="1.0" stroke-linecap="butt"/>
<line x1="513.20" y1="133.35" x2="686.00" y2="133.35" stroke="#2b2b2b" stroke-width="1.0" stroke-linecap="butt"/>
<line x1="513.20" y1="168.00" x2="686.00" y2="168.00" stroke="#2b2b2b" stroke-width="1.0" stroke-linecap="butt"/>
<line x1="536.00" y1="168.00" x2="536.00" y2="171.20" stroke="#2b2b2b" stroke-width="1.0" stroke-linecap="butt"/>
<line x1="579.00" y1="168.00" x2="579.00" y2="171.20" stroke="#2b2b2b" stroke-width="1.0" stroke-linecap="butt"/>
<line x1="622.00" y1="168.00" x2="622.00" y2="171.20" stroke="#2b2b2b" stroke-width="1.0" stroke-linecap="butt"/>
<line x1="665.00" y1="168.00" x2="665.00" y2="171.20" stroke="#2b2b2b" stroke-width="1.0" stroke-linecap="butt"/>
<text transform="translate(539.30,179.60) rotate(-45)" font-size="10.667" text-anchor="end" fill="#000" stroke="#000" stroke-width="0.22">3</text>
<text transform="translate(582.30,179.60) rotate(-45)" font-size="10.667" text-anchor="end" fill="#000" stroke="#000" stroke-width="0.22">6</text>
<text transform="translate(625.30,179.60) rotate(-45)" font-size="10.667" text-anchor="end" fill="#000" stroke="#000" stroke-width="0.22">18</text>
<text transform="translate(668.30,179.60) rotate(-45)" font-size="10.667" text-anchor="end" fill="#000" stroke="#000" stroke-width="0.22">24</text>
<text x="601.00" y="197.00" font-size="10.667" text-anchor="middle" fill="#000"  stroke="#000" stroke-width="0.22">Time post re-feeding (hr)</text>
<path d="M565.40,71.00 V66.00 H574.40 V98.00" fill="none" stroke="#000" stroke-width="0.9"/>
<text x="569.90" y="61.60" font-size="6.3" text-anchor="middle" fill="#000"  stroke="#000" stroke-width="0.22">0.0424</text>
<path d="M608.30,97.20 V66.00 H617.20 V106.80" fill="none" stroke="#000" stroke-width="0.9"/>
<text x="612.80" y="61.60" font-size="6.3" text-anchor="middle" fill="#000"  stroke="#000" stroke-width="0.22">0.0120</text>
<circle cx="489.00" cy="366.70" r="1.6" fill="#000000"/>
<text x="497.80" y="370.50" font-size="10.667" text-anchor="start" fill="#000"  stroke="#000" stroke-width="0.22">WT</text>
<circle cx="489.00" cy="381.70" r="1.6" fill="#6f1a1a"/>
<text x="497.80" y="385.50" font-size="10.667" text-anchor="start" fill="#000"  stroke="#000" stroke-width="0.22">Pyk2 KO</text>
<text transform="translate(354.60,387.00) rotate(-90)" font-size="10.667" text-anchor="middle" fill="#000" stroke="#000" stroke-width="0.22">Leptin-induced hypothalamic</text>
<text transform="translate(367.00,386.80) rotate(-90)" font-size="10.667" text-anchor="middle" fill="#000" stroke="#000" stroke-width="0.22">STAT3 phopshorylation</text>
<text x="383.60" y="441.60" font-size="10.667" text-anchor="end" fill="#000"  stroke="#000" stroke-width="0.22">0</text>
<line x1="384.80" y1="437.60" x2="388.45" y2="437.60" stroke="#2b2b2b" stroke-width="1.0" stroke-linecap="butt"/>
<text x="383.60" y="415.30" font-size="10.667" text-anchor="end" fill="#000"  stroke="#000" stroke-width="0.22">2</text>
<line x1="384.80" y1="411.30" x2="388.45" y2="411.30" stroke="#2b2b2b" stroke-width="1.0" stroke-linecap="butt"/>
<text x="383.60" y="389.00" font-size="10.667" text-anchor="end" fill="#000"  stroke="#000" stroke-width="0.22">4</text>
<line x1="384.80" y1="385.00" x2="388.45" y2="385.00" stroke="#2b2b2b" stroke-width="1.0" stroke-linecap="butt"/>
<text x="383.60" y="362.70" font-size="10.667" text-anchor="end" fill="#000"  stroke="#000" stroke-width="0.22">6</text>
<line x1="384.80" y1="358.70" x2="388.45" y2="358.70" stroke="#2b2b2b" stroke-width="1.0" stroke-linecap="butt"/>
<path d="M392.45,437.60 V409.46 H398.55 V437.60" fill="#fff" stroke="#000000" stroke-width="0.9"/>
<line x1="395.50" y1="404.86" x2="395.50" y2="414.06" stroke="#000000" stroke-width="0.75" stroke-linecap="butt"/>
<line x1="393.70" y1="404.86" x2="397.30" y2="404.86" stroke="#000000" stroke-width="0.75" stroke-linecap="butt"/>
<line x1="393.70" y1="414.06" x2="397.30" y2="414.06" stroke="#000000" stroke-width="0.75" stroke-linecap="butt"/>
<path d="M402.45,437.60 V410.38 H408.55 V437.60" fill="#fff" stroke="#6f1a1a" stroke-width="0.9"/>
<line x1="405.50" y1="404.46" x2="405.50" y2="416.30" stroke="#6f1a1a" stroke-width="0.75" stroke-linecap="butt"/>
<line x1="403.70" y1="404.46" x2="407.30" y2="404.46" stroke="#6f1a1a" stroke-width="0.75" stroke-linecap="butt"/>
<line x1="403.70" y1="416.30" x2="407.30" y2="416.30" stroke="#6f1a1a" stroke-width="0.75" stroke-linecap="butt"/>
<path d="M419.75,437.60 V403.02 H425.85 V437.60" fill="#fff" stroke="#000000" stroke-width="0.9"/>
<line x1="422.80" y1="394.07" x2="422.80" y2="411.96" stroke="#000000" stroke-width="0.75" stroke-linecap="butt"/>
<line x1="421.00" y1="394.07" x2="424.60" y2="394.07" stroke="#000000" stroke-width="0.75" stroke-linecap="butt"/>
<line x1="421.00" y1="411.96" x2="424.60" y2="411.96" stroke="#000000" stroke-width="0.75" stroke-linecap="butt"/>
<path d="M429.75,437.60 V414.06 H435.85 V437.60" fill="#fff" stroke="#6f1a1a" stroke-width="0.9"/>
<line x1="432.80" y1="412.48" x2="432.80" y2="415.64" stroke="#6f1a1a" stroke-width="0.75" stroke-linecap="butt"/>
<line x1="431.00" y1="412.48" x2="434.60" y2="412.48" stroke="#6f1a1a" stroke-width="0.75" stroke-linecap="butt"/>
<line x1="431.00" y1="415.64" x2="434.60" y2="415.64" stroke="#6f1a1a" stroke-width="0.75" stroke-linecap="butt"/>
<path d="M447.05,437.60 V388.42 H453.15 V437.60" fill="#fff" stroke="#000000" stroke-width="0.9"/>
<line x1="450.10" y1="377.37" x2="450.10" y2="399.47" stroke="#000000" stroke-width="0.75" stroke-linecap="butt"/>
<line x1="448.30" y1="377.37" x2="451.90" y2="377.37" stroke="#000000" stroke-width="0.75" stroke-linecap="butt"/>
<line x1="448.30" y1="399.47" x2="451.90" y2="399.47" stroke="#000000" stroke-width="0.75" stroke-linecap="butt"/>
<path d="M457.05,437.60 V423.40 H463.15 V437.60" fill="#fff" stroke="#6f1a1a" stroke-width="0.9"/>
<line x1="460.10" y1="422.08" x2="460.10" y2="424.71" stroke="#6f1a1a" stroke-width="0.75" stroke-linecap="butt"/>
<line x1="458.30" y1="422.08" x2="461.90" y2="422.08" stroke="#6f1a1a" stroke-width="0.75" stroke-linecap="butt"/>
<line x1="458.30" y1="424.71" x2="461.90" y2="424.71" stroke="#6f1a1a" stroke-width="0.75" stroke-linecap="butt"/>
<circle cx="395.50" cy="403.00" r="1.7" fill="#000000"/>
<circle cx="395.50" cy="410.00" r="1.7" fill="#000000"/>
<circle cx="395.50" cy="416.60" r="1.7" fill="#000000"/>
<circle cx="405.50" cy="399.40" r="1.7" fill="#6f1a1a"/>
<circle cx="404.00" cy="416.00" r="1.7" fill="#6f1a1a"/>
<circle cx="407.00" cy="414.00" r="1.7" fill="#6f1a1a"/>
<circle cx="422.70" cy="390.40" r="1.7" fill="#000000"/>
<circle cx="422.70" cy="394.40" r="1.7" fill="#000000"/>
<circle cx="422.70" cy="422.40" r="1.7" fill="#000000"/>
<circle cx="431.40" cy="410.40" r="1.7" fill="#6f1a1a"/>
<circle cx="431.60" cy="415.60" r="1.7" fill="#6f1a1a"/>
<circle cx="434.50" cy="414.00" r="1.7" fill="#6f1a1a"/>
<circle cx="450.60" cy="367.00" r="1.7" fill="#000000"/>
<circle cx="450.60" cy="395.00" r="1.7" fill="#000000"/>
<circle cx="450.60" cy="402.00" r="1.7" fill="#000000"/>
<circle cx="460.40" cy="420.40" r="1.7" fill="#6f1a1a"/>
<circle cx="458.50" cy="424.40" r="1.7" fill="#6f1a1a"/>
<circle cx="462.00" cy="423.00" r="1.7" fill="#6f1a1a"/>
<line x1="388.45" y1="358.20" x2="388.45" y2="438.10" stroke="#2b2b2b" stroke-width="1.0" stroke-linecap="butt"/>
<line x1="384.80" y1="437.60" x2="467.00" y2="437.60" stroke="#2b2b2b" stroke-width="1.0" stroke-linecap="butt"/>
<line x1="400.50" y1="437.60" x2="400.50" y2="440.80" stroke="#2b2b2b" stroke-width="1.0" stroke-linecap="butt"/>
<line x1="427.80" y1="437.60" x2="427.80" y2="440.80" stroke="#2b2b2b" stroke-width="1.0" stroke-linecap="butt"/>
<line x1="455.10" y1="437.60" x2="455.10" y2="440.80" stroke="#2b2b2b" stroke-width="1.0" stroke-linecap="butt"/>
<text transform="translate(403.10,448.60) rotate(-45)" font-size="10.667" text-anchor="end" fill="#000" stroke="#000" stroke-width="0.22">30</text>
<text transform="translate(430.40,448.60) rotate(-45)" font-size="10.667" text-anchor="end" fill="#000" stroke="#000" stroke-width="0.22">60</text>
<text transform="translate(457.70,448.60) rotate(-45)" font-size="10.667" text-anchor="end" fill="#000" stroke="#000" stroke-width="0.22">120</text>
<text x="428.40" y="475.20" font-size="10.667" text-anchor="middle" fill="#000"  stroke="#000" stroke-width="0.22">Time (min) after leptin</text>
<path d="M395.40,400.00 V358.40 H405.50 V396.00" fill="none" stroke="#000" stroke-width="0.9"/>
<text x="400.50" y="354.00" font-size="6.3" text-anchor="middle" fill="#000"  stroke="#000" stroke-width="0.22">0.9987</text>
<path d="M422.70,386.40 V358.40 H432.80 V407.00" fill="none" stroke="#000" stroke-width="0.9"/>
<text x="427.80" y="354.00" font-size="6.3" text-anchor="middle" fill="#000"  stroke="#000" stroke-width="0.22">0.6253</text>
<path d="M450.00,362.60 V358.40 H460.10 V416.60" fill="none" stroke="#000" stroke-width="0.9"/>
<text x="455.10" y="354.00" font-size="6.3" text-anchor="middle" fill="#000"  stroke="#000" stroke-width="0.22">0.0097</text>
<defs>
<filter id="b1" x="-30%" y="-300%" width="160%" height="700%"><feGaussianBlur stdDeviation="1.0 0.8"/></filter>
<filter id="b2" x="-30%" y="-50%" width="160%" height="200%"><feGaussianBlur stdDeviation="1.8 1.2"/></filter>
<filter id="b3" x="-30%" y="-300%" width="160%" height="700%"><feGaussianBlur stdDeviation="1.6 1.5"/></filter>
<filter id="nz" x="0" y="0" width="100%" height="100%"><feTurbulence type="fractalNoise" baseFrequency="0.9" numOctaves="2" seed="3" result="n"/><feColorMatrix in="n" type="matrix" values="0 0 0 0 0  0 0 0 0 0  0 0 0 0 0  0.9 0 0 0 -0.38"/></filter>
<linearGradient id="gp" x1="0" y1="0" x2="0" y2="1"><stop offset="0" stop-color="#cfcfcf"/><stop offset="0.25" stop-color="#d6d6d6"/><stop offset="0.6" stop-color="#cacaca"/><stop offset="1" stop-color="#b4b4b4"/></linearGradient>
<linearGradient id="gs" x1="0" y1="0" x2="0" y2="1"><stop offset="0" stop-color="#dcdcdc"/><stop offset="0.2" stop-color="#e6e6e6"/><stop offset="1" stop-color="#dddddd"/></linearGradient>
</defs>
<text x="112.00" y="273.00" font-size="11.2" text-anchor="middle" fill="#000" textLength="16.2" lengthAdjust="spacingAndGlyphs" stroke="#000" stroke-width="0.22">WT</text>
<text x="210.10" y="270.60" font-size="11.2" text-anchor="middle" fill="#000" textLength="39" lengthAdjust="spacingAndGlyphs" stroke="#000" stroke-width="0.22">Pyk2 KO</text>
<line x1="76.60" y1="279.40" x2="148.00" y2="279.40" stroke="#000" stroke-width="1.1" stroke-linecap="butt"/>
<line x1="173.60" y1="279.40" x2="247.00" y2="279.40" stroke="#000" stroke-width="1.1" stroke-linecap="butt"/>
<text x="6.60" y="292.00" font-size="10.1" text-anchor="start" fill="#000" textLength="62.4" lengthAdjust="spacingAndGlyphs" stroke="#000" stroke-width="0.22">Leptin, 30min:</text>
<line x1="76.70" y1="289.00" x2="85.30" y2="289.00" stroke="#3a3a3a" stroke-width="0.95" stroke-linecap="butt"/>
<line x1="100.60" y1="289.00" x2="105.40" y2="289.00" stroke="#000" stroke-width="1.0" stroke-linecap="butt"/>
<line x1="103.00" y1="286.60" x2="103.00" y2="291.40" stroke="#000" stroke-width="1.0" stroke-linecap="butt"/>
<line x1="123.00" y1="289.00" x2="127.80" y2="289.00" stroke="#000" stroke-width="1.0" stroke-linecap="butt"/>
<line x1="125.40" y1="286.60" x2="125.40" y2="291.40" stroke="#000" stroke-width="1.0" stroke-linecap="butt"/>
<line x1="143.00" y1="289.00" x2="147.80" y2="289.00" stroke="#000" stroke-width="1.0" stroke-linecap="butt"/>
<line x1="145.40" y1="286.60" x2="145.40" y2="291.40" stroke="#000" stroke-width="1.0" stroke-linecap="butt"/>
<line x1="182.70" y1="289.00" x2="191.30" y2="289.00" stroke="#3a3a3a" stroke-width="0.95" stroke-linecap="butt"/>
<line x1="204.00" y1="289.00" x2="208.80" y2="289.00" stroke="#000" stroke-width="1.0" stroke-linecap="butt"/>
<line x1="206.40" y1="286.60" x2="206.40" y2="291.40" stroke="#000" stroke-width="1.0" stroke-linecap="butt"/>
<line x1="223.60" y1="289.00" x2="228.40" y2="289.00" stroke="#000" stroke-width="1.0" stroke-linecap="butt"/>
<line x1="226.00" y1="286.60" x2="226.00" y2="291.40" stroke="#000" stroke-width="1.0" stroke-linecap="butt"/>
<line x1="243.60" y1="289.00" x2="248.40" y2="289.00" stroke="#000" stroke-width="1.0" stroke-linecap="butt"/>
<line x1="246.00" y1="286.60" x2="246.00" y2="291.40" stroke="#000" stroke-width="1.0" stroke-linecap="butt"/>
<clipPath id="c1"><rect x="68.6" y="300.0" width="190.00000000000003" height="18.600000000000023"/></clipPath>
<g clip-path="url(#c1)">
<rect x="68.6" y="300.0" width="190.00000000000003" height="18.600000000000023" fill="url(#gp)"/>
<rect x="73" y="296.0" width="18" height="26.600000000000023" fill="#444" opacity="0.12" filter="url(#b2)"/>
<rect x="95" y="296.0" width="16" height="26.600000000000023" fill="#444" opacity="0.17" filter="url(#b2)"/>
<rect x="116" y="296.0" width="16" height="26.600000000000023" fill="#444" opacity="0.17" filter="url(#b2)"/>
<rect x="137" y="296.0" width="17" height="26.600000000000023" fill="#444" opacity="0.17" filter="url(#b2)"/>
<rect x="178" y="296.0" width="16" height="26.600000000000023" fill="#444" opacity="0.12" filter="url(#b2)"/>
<rect x="199" y="296.0" width="16" height="26.600000000000023" fill="#444" opacity="0.17" filter="url(#b2)"/>
<rect x="219" y="296.0" width="17" height="26.600000000000023" fill="#444" opacity="0.17" filter="url(#b2)"/>
<rect x="240" y="296.0" width="16" height="26.600000000000023" fill="#444" opacity="0.13" filter="url(#b2)"/>
<rect x="74.0" y="311.95" width="16.0" height="4.5" fill="#222" opacity="0.041" filter="url(#b3)"/>
<rect x="96.0" y="312.55" width="14.4" height="4.5" fill="#222" opacity="0.135" filter="url(#b3)"/>
<rect x="117.0" y="311.25" width="14.4" height="4.5" fill="#222" opacity="0.161" filter="url(#b3)"/>
<rect x="137.6" y="311.95" width="15.4" height="4.5" fill="#222" opacity="0.142" filter="url(#b3)"/>
<rect x="179.0" y="311.95" width="14.0" height="4.5" fill="#222" opacity="0.041" filter="url(#b3)"/>
<rect x="199.6" y="311.95" width="14.4" height="4.5" fill="#222" opacity="0.135" filter="url(#b3)"/>
<rect x="220.0" y="311.95" width="15.0" height="4.5" fill="#222" opacity="0.142" filter="url(#b3)"/>
<rect x="241.0" y="311.55" width="14.0" height="4.5" fill="#222" opacity="0.103" filter="url(#b3)"/>
<rect x="73.2" y="306.45" width="17.6" height="3.10" rx="1.03" fill="#141414" opacity="0.194" filter="url(#b1)" transform="rotate(0.0 82.0 308.0)"/>
<rect x="95.2" y="306.65" width="16.0" height="3.90" rx="1.30" fill="#141414" opacity="0.634" filter="url(#b1)" transform="rotate(0.0 103.2 308.6)"/>
<rect x="116.2" y="305.30" width="16.0" height="4.00" rx="1.33" fill="#141414" opacity="0.757" filter="url(#b1)" transform="rotate(0.0 124.2 307.3)"/>
<rect x="136.8" y="306.05" width="17.0" height="3.90" rx="1.30" fill="#141414" opacity="0.669" filter="url(#b1)" transform="rotate(0.0 145.3 308.0)"/>
<rect x="178.2" y="306.45" width="15.6" height="3.10" rx="1.03" fill="#141414" opacity="0.194" filter="url(#b1)" transform="rotate(0.0 186.0 308.0)"/>
<rect x="198.8" y="306.05" width="16.0" height="3.90" rx="1.30" fill="#141414" opacity="0.634" filter="url(#b1)" transform="rotate(0.0 206.8 308.0)"/>
<rect x="219.2" y="306.05" width="16.6" height="3.90" rx="1.30" fill="#141414" opacity="0.669" filter="url(#b1)" transform="rotate(0.0 227.5 308.0)"/>
<rect x="240.2" y="305.85" width="15.6" height="3.50" rx="1.17" fill="#141414" opacity="0.484" filter="url(#b1)" transform="rotate(-2.4 248.0 307.6)"/>
<rect x="68.6" y="300.0" width="190.00000000000003" height="18.600000000000023" fill="#000" filter="url(#nz)" opacity="0.13"/>
</g>
<rect x="68.6" y="300.0" width="190.00000000000003" height="18.600000000000023" fill="none" stroke="#243a66" stroke-width="1.45"/>
<text x="43.20" y="316.60" font-size="10.1" text-anchor="end" fill="#000" textLength="35.0" lengthAdjust="spacingAndGlyphs" stroke="#000" stroke-width="0.22">pSTAT3</text>
<text x="59.00" y="319.00" font-size="8.3" text-anchor="end" fill="#000" stroke="#000" stroke-width="0.2" textLength="8.5" lengthAdjust="spacingAndGlyphs">75</text>
<line x1="60.30" y1="316.20" x2="68.60" y2="316.20" stroke="#000" stroke-width="1.25" stroke-linecap="butt"/>
<clipPath id="c2"><rect x="68.6" y="324.4" width="190.00000000000003" height="21.200000000000045"/></clipPath>
<g clip-path="url(#c2)">
<rect x="68.6" y="324.4" width="190.00000000000003" height="21.200000000000045" fill="url(#gs)"/>
<rect x="71.6" y="335.52" width="16.8" height="2.95" rx="0.98" fill="#141414" opacity="0.57" filter="url(#b1)" transform="rotate(0.0 80.0 337.0)"/>
<rect x="92.8" y="335.08" width="16.0" height="3.05" rx="1.02" fill="#141414" opacity="0.608" filter="url(#b1)" transform="rotate(-1.2 100.8 336.6)"/>
<rect x="112.8" y="334.48" width="17.0" height="3.05" rx="1.02" fill="#141414" opacity="0.646" filter="url(#b1)" transform="rotate(-0.6 121.3 336.0)"/>
<rect x="134.2" y="333.93" width="17.6" height="3.15" rx="1.05" fill="#141414" opacity="0.646" filter="url(#b1)" transform="rotate(-0.6 143.0 335.5)"/>
<rect x="176.2" y="332.72" width="17.6" height="2.95" rx="0.98" fill="#141414" opacity="0.57" filter="url(#b1)" transform="rotate(0.0 185.0 334.2)"/>
<rect x="198.2" y="332.52" width="16.6" height="2.95" rx="0.98" fill="#141414" opacity="0.57" filter="url(#b1)" transform="rotate(0.0 206.5 334.0)"/>
<rect x="218.8" y="332.02" width="16.0" height="2.75" rx="0.92" fill="#141414" opacity="0.551" filter="url(#b1)" transform="rotate(-1.2 226.8 333.4)"/>
<rect x="238.2" y="330.93" width="16.6" height="2.55" rx="0.85" fill="#141414" opacity="0.522" filter="url(#b1)" transform="rotate(-3.6 246.5 332.2)"/>
<rect x="68.6" y="324.4" width="190.00000000000003" height="21.200000000000045" fill="#000" filter="url(#nz)" opacity="0.13"/>
</g>
<rect x="68.6" y="324.4" width="190.00000000000003" height="21.200000000000045" fill="none" stroke="#243a66" stroke-width="1.45"/>
<text x="42.80" y="338.60" font-size="10.1" text-anchor="end" fill="#000" textLength="29.6" lengthAdjust="spacingAndGlyphs" stroke="#000" stroke-width="0.22">STAT3</text>
<text x="59.00" y="346.70" font-size="8.3" text-anchor="end" fill="#000" stroke="#000" stroke-width="0.2" textLength="8.5" lengthAdjust="spacingAndGlyphs">75</text>
<line x1="60.30" y1="344.90" x2="68.60" y2="344.90" stroke="#000" stroke-width="1.25" stroke-linecap="butt"/>
<text x="6.00" y="367.60" font-size="10.1" text-anchor="start" fill="#000" textLength="63" lengthAdjust="spacingAndGlyphs" stroke="#000" stroke-width="0.22">Leptin, 60min:</text>
<line x1="76.30" y1="364.40" x2="84.90" y2="364.40" stroke="#3a3a3a" stroke-width="0.95" stroke-linecap="butt"/>
<line x1="100.00" y1="364.40" x2="104.80" y2="364.40" stroke="#000" stroke-width="1.0" stroke-linecap="butt"/>
<line x1="102.40" y1="362.00" x2="102.40" y2="366.80" stroke="#000" stroke-width="1.0" stroke-linecap="butt"/>
<line x1="120.00" y1="364.40" x2="124.80" y2="364.40" stroke="#000" stroke-width="1.0" stroke-linecap="butt"/>
<line x1="122.40" y1="362.00" x2="122.40" y2="366.80" stroke="#000" stroke-width="1.0" stroke-linecap="butt"/>
<line x1="140.00" y1="364.40" x2="144.80" y2="364.40" stroke="#000" stroke-width="1.0" stroke-linecap="butt"/>
<line x1="142.40" y1="362.00" x2="142.40" y2="366.80" stroke="#000" stroke-width="1.0" stroke-linecap="butt"/>
<line x1="179.70" y1="364.40" x2="188.30" y2="364.40" stroke="#3a3a3a" stroke-width="0.95" stroke-linecap="butt"/>
<line x1="203.20" y1="364.40" x2="208.00" y2="364.40" stroke="#000" stroke-width="1.0" stroke-linecap="butt"/>
<line x1="205.60" y1="362.00" x2="205.60" y2="366.80" stroke="#000" stroke-width="1.0" stroke-linecap="butt"/>
<line x1="223.20" y1="364.40" x2="228.00" y2="364.40" stroke="#000" stroke-width="1.0" stroke-linecap="butt"/>
<line x1="225.60" y1="362.00" x2="225.60" y2="366.80" stroke="#000" stroke-width="1.0" stroke-linecap="butt"/>
<line x1="243.20" y1="364.40" x2="248.00" y2="364.40" stroke="#000" stroke-width="1.0" stroke-linecap="butt"/>
<line x1="245.60" y1="362.00" x2="245.60" y2="366.80" stroke="#000" stroke-width="1.0" stroke-linecap="butt"/>
<clipPath id="c3"><rect x="68.6" y="373.4" width="190.00000000000003" height="16.200000000000045"/></clipPath>
<g clip-path="url(#c3)">
<rect x="68.6" y="373.4" width="190.00000000000003" height="16.200000000000045" fill="url(#gp)"/>
<rect x="73" y="369.4" width="18" height="24.200000000000045" fill="#444" opacity="0.12" filter="url(#b2)"/>
<rect x="95" y="369.4" width="16" height="24.200000000000045" fill="#444" opacity="0.17" filter="url(#b2)"/>
<rect x="116" y="369.4" width="16" height="24.200000000000045" fill="#444" opacity="0.17" filter="url(#b2)"/>
<rect x="137" y="369.4" width="17" height="24.200000000000045" fill="#444" opacity="0.17" filter="url(#b2)"/>
<rect x="178" y="369.4" width="16" height="24.200000000000045" fill="#444" opacity="0.12" filter="url(#b2)"/>
<rect x="199" y="369.4" width="16" height="24.200000000000045" fill="#444" opacity="0.17" filter="url(#b2)"/>
<rect x="219" y="369.4" width="17" height="24.200000000000045" fill="#444" opacity="0.17" filter="url(#b2)"/>
<rect x="240" y="369.4" width="16" height="24.200000000000045" fill="#444" opacity="0.13" filter="url(#b2)"/>
<rect x="74.0" y="383.55" width="16.0" height="4.5" fill="#222" opacity="0.027" filter="url(#b3)"/>
<rect x="96.4" y="384.15" width="14.6" height="4.5" fill="#222" opacity="0.09" filter="url(#b3)"/>
<rect x="117.0" y="383.15" width="15.0" height="4.5" fill="#222" opacity="0.092" filter="url(#b3)"/>
<rect x="137.6" y="383.55" width="16.0" height="4.5" fill="#222" opacity="0.09" filter="url(#b3)"/>
<rect x="179.6" y="384.95" width="14.8" height="4.5" fill="#222" opacity="0.03" filter="url(#b3)"/>
<rect x="200.0" y="385.15" width="14.4" height="4.5" fill="#222" opacity="0.101" filter="url(#b3)"/>
<rect x="219.0" y="384.55" width="15.4" height="4.5" fill="#222" opacity="0.071" filter="url(#b3)"/>
<rect x="239.0" y="383.55" width="14.4" height="4.5" fill="#222" opacity="0.075" filter="url(#b3)"/>
<rect x="73.2" y="378.45" width="17.6" height="3.10" rx="1.03" fill="#141414" opacity="0.172" filter="url(#b1)" transform="rotate(0.0 82.0 380.0)"/>
<rect x="95.6" y="378.65" width="16.2" height="3.90" rx="1.30" fill="#141414" opacity="0.568" filter="url(#b1)" transform="rotate(0.0 103.7 380.6)"/>
<rect x="116.2" y="377.65" width="16.6" height="3.90" rx="1.30" fill="#141414" opacity="0.585" filter="url(#b1)" transform="rotate(0.0 124.5 379.6)"/>
<rect x="136.8" y="378.05" width="17.6" height="3.90" rx="1.30" fill="#141414" opacity="0.568" filter="url(#b1)" transform="rotate(0.0 145.6 380.0)"/>
<rect x="178.8" y="379.85" width="16.4" height="3.10" rx="1.03" fill="#141414" opacity="0.189" filter="url(#b1)" transform="rotate(0.0 187.0 381.4)"/>
<rect x="199.2" y="379.65" width="16.0" height="3.90" rx="1.30" fill="#141414" opacity="0.636" filter="url(#b1)" transform="rotate(0.0 207.2 381.6)"/>
<rect x="218.2" y="379.35" width="17.0" height="3.30" rx="1.10" fill="#141414" opacity="0.447" filter="url(#b1)" transform="rotate(-1.2 226.7 381.0)"/>
<rect x="238.2" y="378.35" width="16.0" height="3.30" rx="1.10" fill="#141414" opacity="0.473" filter="url(#b1)" transform="rotate(-3.0 246.2 380.0)"/>
<rect x="68.6" y="373.4" width="190.00000000000003" height="16.200000000000045" fill="#000" filter="url(#nz)" opacity="0.13"/>
</g>
<rect x="68.6" y="373.4" width="190.00000000000003" height="16.200000000000045" fill="none" stroke="#243a66" stroke-width="1.45"/>
<text x="43.20" y="387.00" font-size="10.1" text-anchor="end" fill="#000" textLength="35.0" lengthAdjust="spacingAndGlyphs" stroke="#000" stroke-width="0.22">pSTAT3</text>
<text x="58.50" y="388.90" font-size="8.3" text-anchor="end" fill="#000" stroke="#000" stroke-width="0.2" textLength="8.5" lengthAdjust="spacingAndGlyphs">75</text>
<line x1="59.80" y1="387.20" x2="68.60" y2="387.20" stroke="#000" stroke-width="1.25" stroke-linecap="butt"/>
<clipPath id="c4"><rect x="68.6" y="395.6" width="190.00000000000003" height="19.799999999999955"/></clipPath>
<g clip-path="url(#c4)">
<rect x="68.6" y="395.6" width="190.00000000000003" height="19.799999999999955" fill="url(#gs)"/>
<rect x="72.2" y="407.38" width="19.0" height="3.25" rx="1.08" fill="#141414" opacity="0.665" filter="url(#b1)" transform="rotate(0.0 81.7 409.0)"/>
<rect x="95.2" y="406.67" width="16.0" height="3.45" rx="1.15" fill="#141414" opacity="0.741" filter="url(#b1)" transform="rotate(0.0 103.2 408.4)"/>
<rect x="115.8" y="406.57" width="16.4" height="2.85" rx="0.95" fill="#141414" opacity="0.57" filter="url(#b1)" transform="rotate(0.0 124.0 408.0)"/>
<rect x="136.8" y="405.88" width="16.4" height="3.05" rx="1.02" fill="#141414" opacity="0.627" filter="url(#b1)" transform="rotate(-1.8 145.0 407.4)"/>
<rect x="177.6" y="404.88" width="18.2" height="3.45" rx="1.15" fill="#141414" opacity="0.665" filter="url(#b1)" transform="rotate(0.0 186.7 406.6)"/>
<rect x="199.2" y="404.38" width="16.6" height="3.25" rx="1.08" fill="#141414" opacity="0.665" filter="url(#b1)" transform="rotate(-1.2 207.5 406.0)"/>
<rect x="219.6" y="403.18" width="16.2" height="2.85" rx="0.95" fill="#141414" opacity="0.589" filter="url(#b1)" transform="rotate(-2.4 227.7 404.6)"/>
<rect x="240.2" y="402.02" width="15.0" height="2.75" rx="0.92" fill="#141414" opacity="0.57" filter="url(#b1)" transform="rotate(-4.2 247.7 403.4)"/>
<rect x="68.6" y="395.6" width="190.00000000000003" height="19.799999999999955" fill="#000" filter="url(#nz)" opacity="0.13"/>
</g>
<rect x="68.6" y="395.6" width="190.00000000000003" height="19.799999999999955" fill="none" stroke="#243a66" stroke-width="1.45"/>
<text x="42.80" y="409.60" font-size="10.1" text-anchor="end" fill="#000" textLength="29.6" lengthAdjust="spacingAndGlyphs" stroke="#000" stroke-width="0.22">STAT3</text>
<text x="58.50" y="418.00" font-size="8.3" text-anchor="end" fill="#000" stroke="#000" stroke-width="0.2" textLength="8.5" lengthAdjust="spacingAndGlyphs">75</text>
<line x1="59.80" y1="415.30" x2="68.60" y2="415.30" stroke="#000" stroke-width="1.25" stroke-linecap="butt"/>
<text x="-1.00" y="441.00" font-size="10.1" text-anchor="start" fill="#000" textLength="68.5" lengthAdjust="spacingAndGlyphs" stroke="#000" stroke-width="0.22">Leptin, 120min:</text>
<line x1="76.30" y1="437.50" x2="84.90" y2="437.50" stroke="#3a3a3a" stroke-width="0.95" stroke-linecap="butt"/>
<line x1="100.00" y1="437.50" x2="104.80" y2="437.50" stroke="#000" stroke-width="1.0" stroke-linecap="butt"/>
<line x1="102.40" y1="435.10" x2="102.40" y2="439.90" stroke="#000" stroke-width="1.0" stroke-linecap="butt"/>
<line x1="122.00" y1="437.50" x2="126.80" y2="437.50" stroke="#000" stroke-width="1.0" stroke-linecap="butt"/>
<line x1="124.40" y1="435.10" x2="124.40" y2="439.90" stroke="#000" stroke-width="1.0" stroke-linecap="butt"/>
<line x1="142.00" y1="437.50" x2="146.80" y2="437.50" stroke="#000" stroke-width="1.0" stroke-linecap="butt"/>
<line x1="144.40" y1="435.10" x2="144.40" y2="439.90" stroke="#000" stroke-width="1.0" stroke-linecap="butt"/>
<line x1="182.10" y1="437.50" x2="190.70" y2="437.50" stroke="#3a3a3a" stroke-width="0.95" stroke-linecap="butt"/>
<line x1="205.60" y1="437.50" x2="210.40" y2="437.50" stroke="#000" stroke-width="1.0" stroke-linecap="butt"/>
<line x1="208.00" y1="435.10" x2="208.00" y2="439.90" stroke="#000" stroke-width="1.0" stroke-linecap="butt"/>
<line x1="225.60" y1="437.50" x2="230.40" y2="437.50" stroke="#000" stroke-width="1.0" stroke-linecap="butt"/>
<line x1="228.00" y1="435.10" x2="228.00" y2="439.90" stroke="#000" stroke-width="1.0" stroke-linecap="butt"/>
<line x1="245.60" y1="437.50" x2="250.40" y2="437.50" stroke="#000" stroke-width="1.0" stroke-linecap="butt"/>
<line x1="248.00" y1="435.10" x2="248.00" y2="439.90" stroke="#000" stroke-width="1.0" stroke-linecap="butt"/>
<clipPath id="c5"><rect x="67.6" y="445.4" width="190.4" height="15.100000000000023"/></clipPath>
<g clip-path="url(#c5)">
<rect x="67.6" y="445.4" width="190.4" height="15.100000000000023" fill="url(#gp)"/>
<rect x="72" y="441.4" width="18" height="23.100000000000023" fill="#444" opacity="0.12" filter="url(#b2)"/>
<rect x="94" y="441.4" width="16" height="23.100000000000023" fill="#444" opacity="0.17" filter="url(#b2)"/>
<rect x="115" y="441.4" width="16" height="23.100000000000023" fill="#444" opacity="0.17" filter="url(#b2)"/>
<rect x="136" y="441.4" width="17" height="23.100000000000023" fill="#444" opacity="0.17" filter="url(#b2)"/>
<rect x="177" y="441.4" width="16" height="23.100000000000023" fill="#444" opacity="0.12" filter="url(#b2)"/>
<rect x="198" y="441.4" width="16" height="23.100000000000023" fill="#444" opacity="0.17" filter="url(#b2)"/>
<rect x="218" y="441.4" width="17" height="23.100000000000023" fill="#444" opacity="0.17" filter="url(#b2)"/>
<rect x="239" y="441.4" width="16" height="23.100000000000023" fill="#444" opacity="0.13" filter="url(#b2)"/>
<rect x="72.4" y="457.35" width="17.2" height="4.5" fill="#222" opacity="0.048" filter="url(#b3)"/>
<rect x="96.0" y="455.95" width="14.4" height="4.5" fill="#222" opacity="0.129" filter="url(#b3)"/>
<rect x="117.4" y="454.95" width="15.0" height="4.5" fill="#222" opacity="0.162" filter="url(#b3)"/>
<rect x="138.0" y="454.35" width="15.6" height="4.5" fill="#222" opacity="0.162" filter="url(#b3)"/>
<rect x="180.0" y="454.35" width="15.0" height="4.5" fill="#222" opacity="0.043" filter="url(#b3)"/>
<rect x="202.4" y="454.35" width="12.0" height="4.5" fill="#222" opacity="0.082" filter="url(#b3)"/>
<rect x="220.4" y="455.35" width="15.6" height="4.5" fill="#222" opacity="0.136" filter="url(#b3)"/>
<rect x="241.0" y="455.95" width="14.0" height="4.5" fill="#222" opacity="0.136" filter="url(#b3)"/>
<rect x="71.6" y="452.70" width="18.8" height="2.60" rx="0.87" fill="#141414" opacity="0.28" filter="url(#b1)" transform="rotate(0.0 81.0 454.0)"/>
<rect x="95.2" y="450.85" width="16.0" height="3.50" rx="1.17" fill="#141414" opacity="0.76" filter="url(#b1)" transform="rotate(-1.2 103.2 452.6)"/>
<rect x="116.6" y="449.65" width="16.6" height="3.90" rx="1.30" fill="#141414" opacity="0.95" filter="url(#b1)" transform="rotate(0.0 124.9 451.6)"/>
<rect x="137.2" y="449.05" width="17.2" height="3.90" rx="1.30" fill="#141414" opacity="0.95" filter="url(#b1)" transform="rotate(0.0 145.8 451.0)"/>
<rect x="179.2" y="449.60" width="16.6" height="2.80" rx="0.93" fill="#141414" opacity="0.25" filter="url(#b1)" transform="rotate(0.0 187.5 451.0)"/>
<rect x="201.6" y="449.30" width="13.6" height="3.40" rx="1.13" fill="#141414" opacity="0.48" filter="url(#b1)" transform="rotate(0.0 208.4 451.0)"/>
<rect x="219.6" y="450.25" width="17.2" height="3.50" rx="1.17" fill="#141414" opacity="0.8" filter="url(#b1)" transform="rotate(1.2 228.2 452.0)"/>
<rect x="240.2" y="450.85" width="15.6" height="3.50" rx="1.17" fill="#141414" opacity="0.8" filter="url(#b1)" transform="rotate(-1.8 248.0 452.6)"/>
<rect x="67.6" y="445.4" width="190.4" height="15.100000000000023" fill="#000" filter="url(#nz)" opacity="0.13"/>
</g>
<rect x="67.6" y="445.4" width="190.4" height="15.100000000000023" fill="none" stroke="#243a66" stroke-width="1.45"/>
<text x="41.60" y="459.00" font-size="10.1" text-anchor="end" fill="#000" textLength="35.5" lengthAdjust="spacingAndGlyphs" stroke="#000" stroke-width="0.22">pSTAT3</text>
<text x="57.40" y="461.00" font-size="8.3" text-anchor="end" fill="#000" stroke="#000" stroke-width="0.2" textLength="8.5" lengthAdjust="spacingAndGlyphs">75</text>
<line x1="58.70" y1="459.30" x2="67.60" y2="459.30" stroke="#000" stroke-width="1.25" stroke-linecap="butt"/>
<clipPath id="c6"><rect x="67.6" y="466.6" width="190.4" height="19.599999999999966"/></clipPath>
<g clip-path="url(#c6)">
<rect x="67.6" y="466.6" width="190.4" height="19.599999999999966" fill="url(#gs)"/>
<rect x="70.2" y="477.67" width="18.6" height="3.45" rx="1.15" fill="#141414" opacity="0.665" filter="url(#b1)" transform="rotate(0.0 79.5 479.4)"/>
<rect x="93.6" y="477.48" width="17.2" height="3.05" rx="1.02" fill="#141414" opacity="0.57" filter="url(#b1)" transform="rotate(0.0 102.2 479.0)"/>
<rect x="115.2" y="476.98" width="16.6" height="3.25" rx="1.08" fill="#141414" opacity="0.646" filter="url(#b1)" transform="rotate(0.0 123.5 478.6)"/>
<rect x="135.8" y="476.27" width="17.4" height="3.45" rx="1.15" fill="#141414" opacity="0.665" filter="url(#b1)" transform="rotate(-1.2 144.5 478.0)"/>
<rect x="158.7" y="476.33" width="11.6" height="2.55" rx="0.85" fill="#141414" opacity="0.067" filter="url(#b1)" transform="rotate(0.0 164.5 477.6)"/>
<rect x="175.8" y="475.67" width="17.4" height="3.45" rx="1.15" fill="#141414" opacity="0.665" filter="url(#b1)" transform="rotate(0.0 184.5 477.4)"/>
<rect x="197.2" y="474.98" width="15.6" height="3.25" rx="1.08" fill="#141414" opacity="0.627" filter="url(#b1)" transform="rotate(0.0 205.0 476.6)"/>
<rect x="216.6" y="474.48" width="16.8" height="3.05" rx="1.02" fill="#141414" opacity="0.627" filter="url(#b1)" transform="rotate(-1.2 225.0 476.0)"/>
<rect x="237.8" y="473.48" width="16.4" height="3.05" rx="1.02" fill="#141414" opacity="0.608" filter="url(#b1)" transform="rotate(-4.2 246.0 475.0)"/>
<rect x="67.6" y="466.6" width="190.4" height="19.599999999999966" fill="#000" filter="url(#nz)" opacity="0.13"/>
</g>
<rect x="67.6" y="466.6" width="190.4" height="19.599999999999966" fill="none" stroke="#243a66" stroke-width="1.45"/>
<text x="41.60" y="480.60" font-size="10.1" text-anchor="end" fill="#000" textLength="29.6" lengthAdjust="spacingAndGlyphs" stroke="#000" stroke-width="0.22">STAT3</text>
<text x="57.40" y="487.20" font-size="8.3" text-anchor="end" fill="#000" stroke="#000" stroke-width="0.2" textLength="8.5" lengthAdjust="spacingAndGlyphs">75</text>
<line x1="58.70" y1="485.00" x2="67.60" y2="485.00" stroke="#000" stroke-width="1.25" stroke-linecap="butt"/>
</g>
</svg>
</body></html>
